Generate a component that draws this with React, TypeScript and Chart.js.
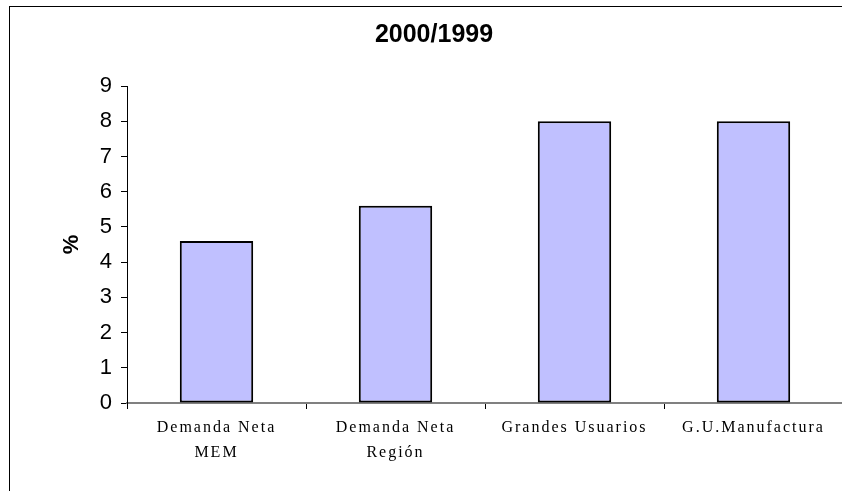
import React, { useEffect, useRef } from "react";
import { Chart, registerables } from "chart.js";

Chart.register(...registerables);

const categories: (string | string[])[] = [
  ["Demanda Neta", "MEM"],
  ["Demanda Neta", "Región"],
  "Grandes Usuarios",
  "G.U.Manufactura",
];
const values: number[] = [4.6, 5.6, 8.0, 8.0];
const titleText = "2000/1999";
const yAxisTitle = "%";
const yMin = 0;
const yMax = 9;
const yStep = 1;

const letterSpacingPlugin = {
  id: "xLabelSpacing",
  afterDatasetsDraw(chart: any) {
    chart.ctx.letterSpacing = "2px";
  },
  afterDraw(chart: any) {
    chart.ctx.letterSpacing = "0px";
  },
};

export default function App() {
  const ref = useRef<HTMLCanvasElement | null>(null);

  useEffect(() => {
    if (!ref.current) return;
    const chart = new Chart(ref.current, {
      type: "bar",
      data: {
        labels: categories,
        datasets: [
          {
            data: values,
            backgroundColor: "#C0C0FF",
            borderColor: "#000000",
            borderWidth: 2,
            borderSkipped: false,
            barPercentage: 0.41,
            categoryPercentage: 1,
          },
        ],
      },
      options: {
        responsive: false,
        animation: false,
        devicePixelRatio: 1,
        layout: { padding: 0 },
        plugins: {
          legend: { display: false },
          tooltip: { enabled: false },
          title: {
            display: true,
            text: titleText,
            color: "#000000",
            font: { family: "'Liberation Sans', Arial, sans-serif", size: 25, weight: "bold" },
            padding: { top: 20, bottom: 36 },
          },
        },
        scales: {
          x: {
            grid: {
              display: true,
              drawOnChartArea: false,
              drawTicks: true,
              tickLength: 6,
              color: "#000000",
              offset: true,
            },
            border: { display: true, color: "#808080", width: 2 },
            ticks: {
              z: 1,
              color: "#000000",
              padding: 6.5,
              maxRotation: 0,
              autoSkip: false,
              font: { family: "'Liberation Serif', 'Times New Roman', serif", size: 16, lineHeight: 1.5625 },
            },
            afterFit(s: any) {
              s.height = 88;
            },
          },
          y: {
            min: yMin,
            max: yMax,
            grid: {
              display: true,
              drawOnChartArea: false,
              drawTicks: true,
              tickLength: 6,
              color: "#000000",
            },
            border: { display: true, color: "#000000", width: 1 },
            ticks: {
              stepSize: yStep,
              color: "#000000",
              padding: 9,
              font: { family: "'Liberation Sans', Arial, sans-serif", size: 22 },
            },
            title: {
              display: true,
              text: yAxisTitle,
              color: "#000000",
              font: { family: "'Liberation Sans', Arial, sans-serif", size: 22, weight: "bold" },
              padding: { top: 59, bottom: 0 },
            },
            afterFit(s: any) {
              s.width = 127;
            },
          },
          yRight: {
            type: "linear",
            position: "right",
            display: true,
            grid: { display: false, drawTicks: false },
            border: { display: false },
            ticks: { display: false },
            afterFit(s: any) {
              s.width = 25;
            },
          },
        },
      } as any,
      plugins: [letterSpacingPlugin],
    });
    return () => chart.destroy();
  }, []);

  return (
    <div
      style={{
        position: "absolute",
        left: 0,
        top: 0,
        width: 842,
        height: 491,
        overflow: "hidden",
        background: "#ffffff",
      }}
    >
      <canvas
        ref={ref}
        width={868}
        height={491}
        style={{ position: "absolute", left: 0, top: 0, width: 868, height: 491 }}
      />
      <div
        style={{
          position: "absolute",
          left: 9,
          top: 6,
          width: 900,
          height: 600,
          border: "1.5px solid #000000",
          pointerEvents: "none",
        }}
      />
    </div>
  );
}
